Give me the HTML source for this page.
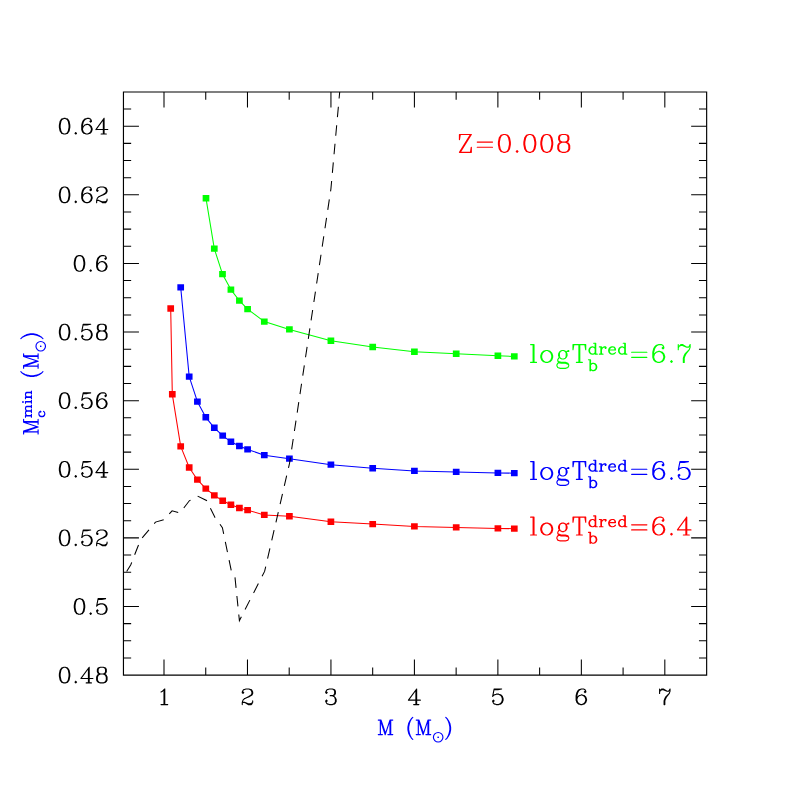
<!DOCTYPE html>
<html><head><meta charset="utf-8"><title>Mc min vs M</title>
<style>html,body{margin:0;padding:0;background:#fff;font-family:"Liberation Sans",sans-serif}svg{display:block}</style>
</head><body>
<svg width="797" height="797" viewBox="0 0 797 797">
<rect width="797" height="797" fill="#fff"/>
<path d="M123.45 92.00H706.65V675.10H123.45Z" fill="none" stroke="#000" stroke-width="1.15" stroke-linejoin="miter"/>
<path d="M164.00 675.10v-15.50M164.00 92.00v15.50M205.74 675.10v-7.70M205.74 92.00v7.70M247.47 675.10v-15.50M247.47 92.00v15.50M289.20 675.10v-7.70M289.20 92.00v7.70M330.94 675.10v-15.50M330.94 92.00v15.50M372.68 675.10v-7.70M372.68 92.00v7.70M414.41 675.10v-15.50M414.41 92.00v15.50M456.14 675.10v-7.70M456.14 92.00v7.70M497.88 675.10v-15.50M497.88 92.00v15.50M539.62 675.10v-7.70M539.62 92.00v7.70M581.35 675.10v-15.50M581.35 92.00v15.50M623.09 675.10v-7.70M623.09 92.00v7.70M664.82 675.10v-15.50M664.82 92.00v15.50M123.45 657.95h7.70M706.65 657.95h-7.70M123.45 640.79h7.70M706.65 640.79h-7.70M123.45 623.64h7.70M706.65 623.64h-7.70M123.45 606.49h15.50M706.65 606.49h-15.50M123.45 589.34h7.70M706.65 589.34h-7.70M123.45 572.18h7.70M706.65 572.18h-7.70M123.45 555.03h7.70M706.65 555.03h-7.70M123.45 537.88h15.50M706.65 537.88h-15.50M123.45 520.73h7.70M706.65 520.73h-7.70M123.45 503.57h7.70M706.65 503.57h-7.70M123.45 486.42h7.70M706.65 486.42h-7.70M123.45 469.27h15.50M706.65 469.27h-15.50M123.45 452.12h7.70M706.65 452.12h-7.70M123.45 434.96h7.70M706.65 434.96h-7.70M123.45 417.81h7.70M706.65 417.81h-7.70M123.45 400.66h15.50M706.65 400.66h-15.50M123.45 383.51h7.70M706.65 383.51h-7.70M123.45 366.36h7.70M706.65 366.36h-7.70M123.45 349.20h7.70M706.65 349.20h-7.70M123.45 332.05h15.50M706.65 332.05h-15.50M123.45 314.90h7.70M706.65 314.90h-7.70M123.45 297.75h7.70M706.65 297.75h-7.70M123.45 280.59h7.70M706.65 280.59h-7.70M123.45 263.44h15.50M706.65 263.44h-15.50M123.45 246.29h7.70M706.65 246.29h-7.70M123.45 229.13h7.70M706.65 229.13h-7.70M123.45 211.98h7.70M706.65 211.98h-7.70M123.45 194.83h15.50M706.65 194.83h-15.50M123.45 177.68h7.70M706.65 177.68h-7.70M123.45 160.52h7.70M706.65 160.52h-7.70M123.45 143.37h7.70M706.65 143.37h-7.70M123.45 126.22h15.50M706.65 126.22h-15.50M123.45 109.07h7.70M706.65 109.07h-7.70" fill="none" stroke="#000" stroke-width="1.05"/>
<path d="M161.02 691.94L162.51 691.19M161.02 704.60L167.73 704.60M162.51 691.19L164.75 688.96M164.00 689.70L164.00 704.60M164.75 688.96L164.75 704.60M242.26 691.94L242.26 692.68M242.26 691.94L243.00 690.45M242.26 692.68L243.00 693.43M242.26 702.37L242.26 704.60M242.26 702.37L243.00 700.13M242.26 703.11L243.00 702.37M243.00 690.45L243.75 689.70M243.00 691.94L243.75 692.68M243.00 693.43L243.75 692.68M243.00 700.13L244.49 698.64M243.00 702.37L244.49 702.37M243.75 689.70L245.98 688.96M244.49 698.64L248.96 696.40M244.49 702.37L248.22 703.86M244.49 702.37L248.22 704.60M245.98 688.96L248.96 688.96M245.98 697.89L249.71 696.40M248.22 703.86L250.45 703.86M248.22 704.60L251.20 704.60M248.96 688.96L250.45 689.70M248.96 688.96L251.20 689.70M248.96 696.40L251.20 694.92M249.71 696.40L251.94 694.92M250.45 689.70L251.20 690.45M250.45 703.86L251.94 703.11M251.20 689.70L251.94 690.45M251.20 690.45L251.94 691.94M251.20 694.92L251.94 693.43M251.20 704.60L251.94 703.86M251.94 690.45L252.69 691.94M251.94 691.94L251.94 693.43M251.94 694.92L252.69 693.43M251.94 703.11L252.69 702.37M251.94 703.86L252.69 702.37M252.69 691.94L252.69 693.43M252.69 700.88L252.69 702.37M325.73 691.94L325.73 692.68M325.73 691.94L326.47 690.45M325.73 692.68L326.47 693.43M325.73 700.88L325.73 701.62M325.73 700.88L326.47 700.13M325.73 701.62L326.47 703.11M326.47 690.45L327.22 689.70M326.47 691.94L327.22 692.68M326.47 693.43L327.22 692.68M326.47 700.13L327.22 700.88M326.47 701.62L327.22 700.88M326.47 703.11L327.22 703.86M327.22 689.70L329.45 688.96M327.22 703.86L329.45 704.60M329.45 688.96L332.43 688.96M329.45 704.60L332.43 704.60M330.19 695.66L332.43 695.66M332.43 688.96L333.92 689.70M332.43 688.96L334.67 689.70M332.43 695.66L333.92 694.92M332.43 695.66L333.92 696.40M332.43 695.66L334.67 694.92M332.43 704.60L333.92 703.86M332.43 704.60L334.67 703.86M333.92 689.70L334.67 691.19M333.92 694.92L334.67 693.43M333.92 696.40L335.41 697.89M333.92 703.86L334.67 703.11M334.67 689.70L335.41 691.19M334.67 691.19L334.67 693.43M334.67 694.92L335.41 693.43M334.67 697.15L335.41 699.38M334.67 703.11L335.41 701.62M334.67 703.86L335.41 703.11M335.41 691.19L335.41 693.43M335.41 697.89L336.16 699.38M335.41 699.38L335.41 701.62M335.41 703.11L336.16 701.62M336.16 699.38L336.16 701.62M408.45 700.13L416.64 688.96M408.45 700.13L420.37 700.13M413.66 704.60L418.88 704.60M415.90 690.45L415.90 704.60M416.64 688.96L416.64 704.60M492.67 696.40L494.16 688.96M492.67 696.40L494.16 694.92M492.67 700.88L492.67 701.62M492.67 700.88L493.41 700.13M492.67 701.62L493.41 703.11M493.41 700.13L494.16 700.88M493.41 701.62L494.16 700.88M493.41 703.11L494.16 703.86M494.16 688.96L501.61 688.96M494.16 689.70L497.88 689.70M494.16 694.92L496.39 694.17M494.16 703.86L496.39 704.60M496.39 694.17L498.62 694.17M496.39 704.60L498.62 704.60M497.88 689.70L501.61 688.96M498.62 694.17L500.12 694.92M498.62 694.17L500.86 694.92M498.62 704.60L500.12 703.86M498.62 704.60L500.86 703.86M500.12 694.92L501.61 696.40M500.12 703.86L501.61 702.37M500.86 694.92L502.35 696.40M500.86 703.86L502.35 702.37M501.61 696.40L502.35 698.64M501.61 702.37L502.35 700.13M502.35 696.40L503.10 698.64M502.35 698.64L502.35 700.13M502.35 702.37L503.10 700.13M503.10 698.64L503.10 700.13M576.13 695.66L576.13 700.13M576.13 695.66L576.88 692.68M576.13 700.13L576.88 702.37M576.88 692.68L577.62 691.19M576.88 695.66L576.88 700.13M576.88 695.66L577.62 692.68M576.88 699.38L577.62 697.15M576.88 700.13L577.62 702.37M576.88 702.37L578.37 703.86M577.62 691.19L579.12 689.70M577.62 692.68L578.37 691.19M577.62 697.15L579.12 695.66M577.62 702.37L579.12 703.86M578.37 691.19L579.86 689.70M578.37 703.86L580.61 704.60M579.12 689.70L581.35 688.96M579.12 695.66L581.35 694.92M579.12 703.86L580.61 704.60M579.86 689.70L581.35 688.96M580.61 704.60L582.10 704.60M581.35 688.96L583.58 688.96M581.35 694.92L582.10 694.92M582.10 694.92L583.58 695.66M582.10 694.92L584.33 695.66M582.10 704.60L583.58 703.86M582.10 704.60L584.33 703.86M583.58 688.96L585.07 689.70M583.58 695.66L585.07 697.15M583.58 703.86L585.07 702.37M584.33 691.94L585.07 691.19M584.33 691.94L585.07 692.68M584.33 695.66L585.82 697.15M584.33 703.86L585.82 702.37M585.07 689.70L585.82 691.19M585.07 692.68L585.82 691.94M585.07 697.15L585.82 699.38M585.07 702.37L585.82 700.13M585.82 691.19L585.82 691.94M585.82 697.15L586.56 699.38M585.82 699.38L585.82 700.13M585.82 702.37L586.56 700.13M586.56 699.38L586.56 700.13M659.60 688.96L659.60 693.43M659.60 691.94L660.35 690.45M660.35 690.45L661.84 688.96M660.35 690.45L661.84 689.70M661.84 688.96L663.33 688.96M661.84 689.70L663.33 689.70M663.33 688.96L667.05 691.19M663.33 689.70L667.05 691.19M664.07 700.88L664.07 704.60M664.07 700.88L664.82 698.64M664.82 698.64L665.56 697.15M664.82 700.88L664.82 704.60M664.82 700.88L665.56 698.64M665.56 697.15L669.29 693.43M665.56 698.64L666.31 697.15M666.31 697.15L669.29 693.43M667.05 691.19L668.54 691.19M668.54 691.19L669.29 690.45M669.29 690.45L670.03 688.96M669.29 693.43L670.03 691.19M670.03 688.96L670.03 691.19M59.38 673.98L59.38 676.22M59.38 673.98L60.13 670.26M59.38 676.22L60.13 679.94M60.13 670.26L61.62 668.02M60.13 673.98L60.13 676.22M60.13 673.98L60.88 670.26M60.13 676.22L60.88 679.94M60.13 679.94L61.62 682.18M60.88 670.26L61.62 668.77M60.88 679.94L61.62 681.43M61.62 668.02L63.85 667.28M61.62 668.77L62.36 668.02M61.62 681.43L62.36 682.18M61.62 682.18L63.85 682.92M62.36 668.02L63.85 667.28M62.36 682.18L63.85 682.92M63.85 667.28L65.34 667.28M63.85 682.92L65.34 682.92M65.34 667.28L66.83 668.02M65.34 667.28L67.58 668.02M65.34 682.92L66.83 682.18M65.34 682.92L67.58 682.18M66.83 668.02L67.58 668.77M66.83 682.18L67.58 681.43M67.58 668.02L69.07 670.26M67.58 668.77L68.33 670.26M67.58 681.43L68.33 679.94M67.58 682.18L69.07 679.94M68.33 670.26L69.07 673.98M68.33 679.94L69.07 676.22M69.07 670.26L69.81 673.98M69.07 673.98L69.07 676.22M69.07 679.94L69.81 676.22M69.81 673.98L69.81 676.22M75.03 682.18L75.77 681.43M75.03 682.18L75.77 682.92M75.77 681.43L76.52 682.18M75.77 682.92L76.52 682.18M75.33 682.18h0.89M80.99 678.45L89.19 667.28M80.99 678.45L92.91 678.45M86.20 682.92L91.42 682.92M88.44 668.77L88.44 682.92M89.19 667.28L89.19 682.92M96.64 676.96L96.64 679.94M96.64 676.96L97.38 675.47M96.64 679.94L97.38 681.43M97.38 669.51L97.38 671.75M97.38 669.51L98.12 668.02M97.38 671.75L98.12 673.24M97.38 675.47L98.12 674.73M97.38 676.96L97.38 679.94M97.38 676.96L98.12 675.47M97.38 679.94L98.12 681.43M97.38 681.43L98.12 682.18M98.12 668.02L100.36 667.28M98.12 669.51L98.12 671.75M98.12 669.51L98.87 668.02M98.12 671.75L98.87 673.24M98.12 673.24L100.36 673.98M98.12 674.73L100.36 673.98M98.12 675.47L98.87 674.73M98.12 681.43L98.87 682.18M98.12 682.18L100.36 682.92M98.87 668.02L100.36 667.28M98.87 673.24L100.36 673.98M98.87 674.73L100.36 673.98M98.87 682.18L100.36 682.92M100.36 667.28L103.34 667.28M100.36 673.98L103.34 673.98M100.36 682.92L103.34 682.92M103.34 667.28L104.83 668.02M103.34 667.28L105.58 668.02M103.34 673.98L104.83 673.24M103.34 673.98L104.83 674.73M103.34 673.98L105.58 673.24M103.34 673.98L105.58 674.73M103.34 682.92L104.83 682.18M103.34 682.92L105.58 682.18M104.83 668.02L105.58 669.51M104.83 673.24L105.58 671.75M104.83 674.73L105.58 675.47M104.83 682.18L105.58 681.43M105.58 668.02L106.32 669.51M105.58 669.51L105.58 671.75M105.58 673.24L106.32 671.75M105.58 674.73L106.32 675.47M105.58 675.47L106.32 676.96M105.58 681.43L106.32 679.94M105.58 682.18L106.32 681.43M106.32 669.51L106.32 671.75M106.32 675.47L107.06 676.96M106.32 676.96L106.32 679.94M106.32 681.43L107.06 679.94M107.06 676.96L107.06 679.94M74.28 605.37L74.28 607.61M74.28 605.37L75.03 601.65M74.28 607.61L75.03 611.33M75.03 601.65L76.52 599.41M75.03 605.37L75.03 607.61M75.03 605.37L75.77 601.65M75.03 607.61L75.77 611.33M75.03 611.33L76.52 613.57M75.77 601.65L76.52 600.16M75.77 611.33L76.52 612.82M76.52 599.41L78.75 598.67M76.52 600.16L77.27 599.41M76.52 612.82L77.27 613.57M76.52 613.57L78.75 614.31M77.27 599.41L78.75 598.67M77.27 613.57L78.75 614.31M78.75 598.67L80.25 598.67M78.75 614.31L80.25 614.31M80.25 598.67L81.73 599.41M80.25 598.67L82.48 599.41M80.25 614.31L81.73 613.57M80.25 614.31L82.48 613.57M81.73 599.41L82.48 600.16M81.73 613.57L82.48 612.82M82.48 599.41L83.97 601.65M82.48 600.16L83.22 601.65M82.48 612.82L83.22 611.33M82.48 613.57L83.97 611.33M83.22 601.65L83.97 605.37M83.22 611.33L83.97 607.61M83.97 601.65L84.72 605.37M83.97 605.37L83.97 607.61M83.97 611.33L84.72 607.61M84.72 605.37L84.72 607.61M89.93 613.57L90.67 612.82M89.93 613.57L90.67 614.31M90.67 612.82L91.42 613.57M90.67 614.31L91.42 613.57M90.23 613.57h0.89M96.64 606.12L98.12 598.67M96.64 606.12L98.12 604.63M96.64 610.59L96.64 611.33M96.64 610.59L97.38 609.84M96.64 611.33L97.38 612.82M97.38 609.84L98.12 610.59M97.38 611.33L98.12 610.59M97.38 612.82L98.12 613.57M98.12 598.67L105.58 598.67M98.12 599.41L101.85 599.41M98.12 604.63L100.36 603.88M98.12 613.57L100.36 614.31M100.36 603.88L102.59 603.88M100.36 614.31L102.59 614.31M101.85 599.41L105.58 598.67M102.59 603.88L104.09 604.63M102.59 603.88L104.83 604.63M102.59 614.31L104.09 613.57M102.59 614.31L104.83 613.57M104.09 604.63L105.58 606.12M104.09 613.57L105.58 612.08M104.83 604.63L106.32 606.12M104.83 613.57L106.32 612.08M105.58 606.12L106.32 608.35M105.58 612.08L106.32 609.84M106.32 606.12L107.06 608.35M106.32 608.35L106.32 609.84M106.32 612.08L107.06 609.84M107.06 608.35L107.06 609.84M59.38 536.76L59.38 539.00M59.38 536.76L60.13 533.04M59.38 539.00L60.13 542.72M60.13 533.04L61.62 530.80M60.13 536.76L60.13 539.00M60.13 536.76L60.88 533.04M60.13 539.00L60.88 542.72M60.13 542.72L61.62 544.96M60.88 533.04L61.62 531.55M60.88 542.72L61.62 544.21M61.62 530.80L63.85 530.06M61.62 531.55L62.36 530.80M61.62 544.21L62.36 544.96M61.62 544.96L63.85 545.70M62.36 530.80L63.85 530.06M62.36 544.96L63.85 545.70M63.85 530.06L65.34 530.06M63.85 545.70L65.34 545.70M65.34 530.06L66.83 530.80M65.34 530.06L67.58 530.80M65.34 545.70L66.83 544.96M65.34 545.70L67.58 544.96M66.83 530.80L67.58 531.55M66.83 544.96L67.58 544.21M67.58 530.80L69.07 533.04M67.58 531.55L68.33 533.04M67.58 544.21L68.33 542.72M67.58 544.96L69.07 542.72M68.33 533.04L69.07 536.76M68.33 542.72L69.07 539.00M69.07 533.04L69.81 536.76M69.07 536.76L69.07 539.00M69.07 542.72L69.81 539.00M69.81 536.76L69.81 539.00M75.03 544.96L75.77 544.21M75.03 544.96L75.77 545.70M75.77 544.21L76.52 544.96M75.77 545.70L76.52 544.96M75.33 544.96h0.89M81.73 537.51L83.22 530.06M81.73 537.51L83.22 536.02M81.73 541.98L81.73 542.72M81.73 541.98L82.48 541.23M81.73 542.72L82.48 544.21M82.48 541.23L83.22 541.98M82.48 542.72L83.22 541.98M82.48 544.21L83.22 544.96M83.22 530.06L90.67 530.06M83.22 530.80L86.95 530.80M83.22 536.02L85.46 535.27M83.22 544.96L85.46 545.70M85.46 535.27L87.69 535.27M85.46 545.70L87.69 545.70M86.95 530.80L90.67 530.06M87.69 535.27L89.19 536.02M87.69 535.27L89.93 536.02M87.69 545.70L89.19 544.96M87.69 545.70L89.93 544.96M89.19 536.02L90.67 537.51M89.19 544.96L90.67 543.47M89.93 536.02L91.42 537.51M89.93 544.96L91.42 543.47M90.67 537.51L91.42 539.74M90.67 543.47L91.42 541.23M91.42 537.51L92.16 539.74M91.42 539.74L91.42 541.23M91.42 543.47L92.16 541.23M92.16 539.74L92.16 541.23M96.64 533.04L96.64 533.78M96.64 533.04L97.38 531.55M96.64 533.78L97.38 534.53M96.64 543.47L96.64 545.70M96.64 543.47L97.38 541.23M96.64 544.21L97.38 543.47M97.38 531.55L98.12 530.80M97.38 533.04L98.12 533.78M97.38 534.53L98.12 533.78M97.38 541.23L98.87 539.74M97.38 543.47L98.87 543.47M98.12 530.80L100.36 530.06M98.87 539.74L103.34 537.51M98.87 543.47L102.59 544.96M98.87 543.47L102.59 545.70M100.36 530.06L103.34 530.06M100.36 539.00L104.09 537.51M102.59 544.96L104.83 544.96M102.59 545.70L105.58 545.70M103.34 530.06L104.83 530.80M103.34 530.06L105.58 530.80M103.34 537.51L105.58 536.02M104.09 537.51L106.32 536.02M104.83 530.80L105.58 531.55M104.83 544.96L106.32 544.21M105.58 530.80L106.32 531.55M105.58 531.55L106.32 533.04M105.58 536.02L106.32 534.53M105.58 545.70L106.32 544.96M106.32 531.55L107.06 533.04M106.32 533.04L106.32 534.53M106.32 536.02L107.06 534.53M106.32 544.21L107.06 543.47M106.32 544.96L107.06 543.47M107.06 533.04L107.06 534.53M107.06 541.98L107.06 543.47M59.38 468.15L59.38 470.39M59.38 468.15L60.13 464.43M59.38 470.39L60.13 474.11M60.13 464.43L61.62 462.19M60.13 468.15L60.13 470.39M60.13 468.15L60.88 464.43M60.13 470.39L60.88 474.11M60.13 474.11L61.62 476.35M60.88 464.43L61.62 462.94M60.88 474.11L61.62 475.60M61.62 462.19L63.85 461.45M61.62 462.94L62.36 462.19M61.62 475.60L62.36 476.35M61.62 476.35L63.85 477.09M62.36 462.19L63.85 461.45M62.36 476.35L63.85 477.09M63.85 461.45L65.34 461.45M63.85 477.09L65.34 477.09M65.34 461.45L66.83 462.19M65.34 461.45L67.58 462.19M65.34 477.09L66.83 476.35M65.34 477.09L67.58 476.35M66.83 462.19L67.58 462.94M66.83 476.35L67.58 475.60M67.58 462.19L69.07 464.43M67.58 462.94L68.33 464.43M67.58 475.60L68.33 474.11M67.58 476.35L69.07 474.11M68.33 464.43L69.07 468.15M68.33 474.11L69.07 470.39M69.07 464.43L69.81 468.15M69.07 468.15L69.07 470.39M69.07 474.11L69.81 470.39M69.81 468.15L69.81 470.39M75.03 476.35L75.77 475.60M75.03 476.35L75.77 477.09M75.77 475.60L76.52 476.35M75.77 477.09L76.52 476.35M75.33 476.35h0.89M81.73 468.90L83.22 461.45M81.73 468.90L83.22 467.41M81.73 473.37L81.73 474.11M81.73 473.37L82.48 472.62M81.73 474.11L82.48 475.60M82.48 472.62L83.22 473.37M82.48 474.11L83.22 473.37M82.48 475.60L83.22 476.35M83.22 461.45L90.67 461.45M83.22 462.19L86.95 462.19M83.22 467.41L85.46 466.66M83.22 476.35L85.46 477.09M85.46 466.66L87.69 466.66M85.46 477.09L87.69 477.09M86.95 462.19L90.67 461.45M87.69 466.66L89.19 467.41M87.69 466.66L89.93 467.41M87.69 477.09L89.19 476.35M87.69 477.09L89.93 476.35M89.19 467.41L90.67 468.90M89.19 476.35L90.67 474.86M89.93 467.41L91.42 468.90M89.93 476.35L91.42 474.86M90.67 468.90L91.42 471.13M90.67 474.86L91.42 472.62M91.42 468.90L92.16 471.13M91.42 471.13L91.42 472.62M91.42 474.86L92.16 472.62M92.16 471.13L92.16 472.62M95.89 472.62L104.09 461.45M95.89 472.62L107.81 472.62M101.11 477.09L106.32 477.09M103.34 462.94L103.34 477.09M104.09 461.45L104.09 477.09M59.38 399.54L59.38 401.78M59.38 399.54L60.13 395.82M59.38 401.78L60.13 405.50M60.13 395.82L61.62 393.58M60.13 399.54L60.13 401.78M60.13 399.54L60.88 395.82M60.13 401.78L60.88 405.50M60.13 405.50L61.62 407.74M60.88 395.82L61.62 394.33M60.88 405.50L61.62 406.99M61.62 393.58L63.85 392.84M61.62 394.33L62.36 393.58M61.62 406.99L62.36 407.74M61.62 407.74L63.85 408.48M62.36 393.58L63.85 392.84M62.36 407.74L63.85 408.48M63.85 392.84L65.34 392.84M63.85 408.48L65.34 408.48M65.34 392.84L66.83 393.58M65.34 392.84L67.58 393.58M65.34 408.48L66.83 407.74M65.34 408.48L67.58 407.74M66.83 393.58L67.58 394.33M66.83 407.74L67.58 406.99M67.58 393.58L69.07 395.82M67.58 394.33L68.33 395.82M67.58 406.99L68.33 405.50M67.58 407.74L69.07 405.50M68.33 395.82L69.07 399.54M68.33 405.50L69.07 401.78M69.07 395.82L69.81 399.54M69.07 399.54L69.07 401.78M69.07 405.50L69.81 401.78M69.81 399.54L69.81 401.78M75.03 407.74L75.77 406.99M75.03 407.74L75.77 408.48M75.77 406.99L76.52 407.74M75.77 408.48L76.52 407.74M75.33 407.74h0.89M81.73 400.29L83.22 392.84M81.73 400.29L83.22 398.80M81.73 404.76L81.73 405.50M81.73 404.76L82.48 404.01M81.73 405.50L82.48 406.99M82.48 404.01L83.22 404.76M82.48 405.50L83.22 404.76M82.48 406.99L83.22 407.74M83.22 392.84L90.67 392.84M83.22 393.58L86.95 393.58M83.22 398.80L85.46 398.05M83.22 407.74L85.46 408.48M85.46 398.05L87.69 398.05M85.46 408.48L87.69 408.48M86.95 393.58L90.67 392.84M87.69 398.05L89.19 398.80M87.69 398.05L89.93 398.80M87.69 408.48L89.19 407.74M87.69 408.48L89.93 407.74M89.19 398.80L90.67 400.29M89.19 407.74L90.67 406.25M89.93 398.80L91.42 400.29M89.93 407.74L91.42 406.25M90.67 400.29L91.42 402.52M90.67 406.25L91.42 404.01M91.42 400.29L92.16 402.52M91.42 402.52L91.42 404.01M91.42 406.25L92.16 404.01M92.16 402.52L92.16 404.01M96.64 399.54L96.64 404.01M96.64 399.54L97.38 396.56M96.64 404.01L97.38 406.25M97.38 396.56L98.12 395.07M97.38 399.54L97.38 404.01M97.38 399.54L98.12 396.56M97.38 403.27L98.12 401.03M97.38 404.01L98.12 406.25M97.38 406.25L98.87 407.74M98.12 395.07L99.62 393.58M98.12 396.56L98.87 395.07M98.12 401.03L99.62 399.54M98.12 406.25L99.62 407.74M98.87 395.07L100.36 393.58M98.87 407.74L101.11 408.48M99.62 393.58L101.85 392.84M99.62 399.54L101.85 398.80M99.62 407.74L101.11 408.48M100.36 393.58L101.85 392.84M101.11 408.48L102.59 408.48M101.85 392.84L104.09 392.84M101.85 398.80L102.59 398.80M102.59 398.80L104.09 399.54M102.59 398.80L104.83 399.54M102.59 408.48L104.09 407.74M102.59 408.48L104.83 407.74M104.09 392.84L105.58 393.58M104.09 399.54L105.58 401.03M104.09 407.74L105.58 406.25M104.83 395.82L105.58 395.07M104.83 395.82L105.58 396.56M104.83 399.54L106.32 401.03M104.83 407.74L106.32 406.25M105.58 393.58L106.32 395.07M105.58 396.56L106.32 395.82M105.58 401.03L106.32 403.27M105.58 406.25L106.32 404.01M106.32 395.07L106.32 395.82M106.32 401.03L107.06 403.27M106.32 403.27L106.32 404.01M106.32 406.25L107.06 404.01M107.06 403.27L107.06 404.01M59.38 330.93L59.38 333.17M59.38 330.93L60.13 327.21M59.38 333.17L60.13 336.89M60.13 327.21L61.62 324.97M60.13 330.93L60.13 333.17M60.13 330.93L60.88 327.21M60.13 333.17L60.88 336.89M60.13 336.89L61.62 339.13M60.88 327.21L61.62 325.72M60.88 336.89L61.62 338.38M61.62 324.97L63.85 324.23M61.62 325.72L62.36 324.97M61.62 338.38L62.36 339.13M61.62 339.13L63.85 339.87M62.36 324.97L63.85 324.23M62.36 339.13L63.85 339.87M63.85 324.23L65.34 324.23M63.85 339.87L65.34 339.87M65.34 324.23L66.83 324.97M65.34 324.23L67.58 324.97M65.34 339.87L66.83 339.13M65.34 339.87L67.58 339.13M66.83 324.97L67.58 325.72M66.83 339.13L67.58 338.38M67.58 324.97L69.07 327.21M67.58 325.72L68.33 327.21M67.58 338.38L68.33 336.89M67.58 339.13L69.07 336.89M68.33 327.21L69.07 330.93M68.33 336.89L69.07 333.17M69.07 327.21L69.81 330.93M69.07 330.93L69.07 333.17M69.07 336.89L69.81 333.17M69.81 330.93L69.81 333.17M75.03 339.13L75.77 338.38M75.03 339.13L75.77 339.87M75.77 338.38L76.52 339.13M75.77 339.87L76.52 339.13M75.33 339.13h0.89M81.73 331.68L83.22 324.23M81.73 331.68L83.22 330.19M81.73 336.15L81.73 336.89M81.73 336.15L82.48 335.40M81.73 336.89L82.48 338.38M82.48 335.40L83.22 336.15M82.48 336.89L83.22 336.15M82.48 338.38L83.22 339.13M83.22 324.23L90.67 324.23M83.22 324.97L86.95 324.97M83.22 330.19L85.46 329.44M83.22 339.13L85.46 339.87M85.46 329.44L87.69 329.44M85.46 339.87L87.69 339.87M86.95 324.97L90.67 324.23M87.69 329.44L89.19 330.19M87.69 329.44L89.93 330.19M87.69 339.87L89.19 339.13M87.69 339.87L89.93 339.13M89.19 330.19L90.67 331.68M89.19 339.13L90.67 337.64M89.93 330.19L91.42 331.68M89.93 339.13L91.42 337.64M90.67 331.68L91.42 333.91M90.67 337.64L91.42 335.40M91.42 331.68L92.16 333.91M91.42 333.91L91.42 335.40M91.42 337.64L92.16 335.40M92.16 333.91L92.16 335.40M96.64 333.91L96.64 336.89M96.64 333.91L97.38 332.42M96.64 336.89L97.38 338.38M97.38 326.46L97.38 328.70M97.38 326.46L98.12 324.97M97.38 328.70L98.12 330.19M97.38 332.42L98.12 331.68M97.38 333.91L97.38 336.89M97.38 333.91L98.12 332.42M97.38 336.89L98.12 338.38M97.38 338.38L98.12 339.13M98.12 324.97L100.36 324.23M98.12 326.46L98.12 328.70M98.12 326.46L98.87 324.97M98.12 328.70L98.87 330.19M98.12 330.19L100.36 330.93M98.12 331.68L100.36 330.93M98.12 332.42L98.87 331.68M98.12 338.38L98.87 339.13M98.12 339.13L100.36 339.87M98.87 324.97L100.36 324.23M98.87 330.19L100.36 330.93M98.87 331.68L100.36 330.93M98.87 339.13L100.36 339.87M100.36 324.23L103.34 324.23M100.36 330.93L103.34 330.93M100.36 339.87L103.34 339.87M103.34 324.23L104.83 324.97M103.34 324.23L105.58 324.97M103.34 330.93L104.83 330.19M103.34 330.93L104.83 331.68M103.34 330.93L105.58 330.19M103.34 330.93L105.58 331.68M103.34 339.87L104.83 339.13M103.34 339.87L105.58 339.13M104.83 324.97L105.58 326.46M104.83 330.19L105.58 328.70M104.83 331.68L105.58 332.42M104.83 339.13L105.58 338.38M105.58 324.97L106.32 326.46M105.58 326.46L105.58 328.70M105.58 330.19L106.32 328.70M105.58 331.68L106.32 332.42M105.58 332.42L106.32 333.91M105.58 338.38L106.32 336.89M105.58 339.13L106.32 338.38M106.32 326.46L106.32 328.70M106.32 332.42L107.06 333.91M106.32 333.91L106.32 336.89M106.32 338.38L107.06 336.89M107.06 333.91L107.06 336.89M74.28 262.32L74.28 264.56M74.28 262.32L75.03 258.60M74.28 264.56L75.03 268.28M75.03 258.60L76.52 256.36M75.03 262.32L75.03 264.56M75.03 262.32L75.77 258.60M75.03 264.56L75.77 268.28M75.03 268.28L76.52 270.52M75.77 258.60L76.52 257.11M75.77 268.28L76.52 269.77M76.52 256.36L78.75 255.62M76.52 257.11L77.27 256.36M76.52 269.77L77.27 270.52M76.52 270.52L78.75 271.26M77.27 256.36L78.75 255.62M77.27 270.52L78.75 271.26M78.75 255.62L80.25 255.62M78.75 271.26L80.25 271.26M80.25 255.62L81.73 256.36M80.25 255.62L82.48 256.36M80.25 271.26L81.73 270.52M80.25 271.26L82.48 270.52M81.73 256.36L82.48 257.11M81.73 270.52L82.48 269.77M82.48 256.36L83.97 258.60M82.48 257.11L83.22 258.60M82.48 269.77L83.22 268.28M82.48 270.52L83.97 268.28M83.22 258.60L83.97 262.32M83.22 268.28L83.97 264.56M83.97 258.60L84.72 262.32M83.97 262.32L83.97 264.56M83.97 268.28L84.72 264.56M84.72 262.32L84.72 264.56M89.93 270.52L90.67 269.77M89.93 270.52L90.67 271.26M90.67 269.77L91.42 270.52M90.67 271.26L91.42 270.52M90.23 270.52h0.89M96.64 262.32L96.64 266.79M96.64 262.32L97.38 259.34M96.64 266.79L97.38 269.03M97.38 259.34L98.12 257.85M97.38 262.32L97.38 266.79M97.38 262.32L98.12 259.34M97.38 266.05L98.12 263.81M97.38 266.79L98.12 269.03M97.38 269.03L98.87 270.52M98.12 257.85L99.62 256.36M98.12 259.34L98.87 257.85M98.12 263.81L99.62 262.32M98.12 269.03L99.62 270.52M98.87 257.85L100.36 256.36M98.87 270.52L101.11 271.26M99.62 256.36L101.85 255.62M99.62 262.32L101.85 261.58M99.62 270.52L101.11 271.26M100.36 256.36L101.85 255.62M101.11 271.26L102.59 271.26M101.85 255.62L104.09 255.62M101.85 261.58L102.59 261.58M102.59 261.58L104.09 262.32M102.59 261.58L104.83 262.32M102.59 271.26L104.09 270.52M102.59 271.26L104.83 270.52M104.09 255.62L105.58 256.36M104.09 262.32L105.58 263.81M104.09 270.52L105.58 269.03M104.83 258.60L105.58 257.85M104.83 258.60L105.58 259.34M104.83 262.32L106.32 263.81M104.83 270.52L106.32 269.03M105.58 256.36L106.32 257.85M105.58 259.34L106.32 258.60M105.58 263.81L106.32 266.05M105.58 269.03L106.32 266.79M106.32 257.85L106.32 258.60M106.32 263.81L107.06 266.05M106.32 266.05L106.32 266.79M106.32 269.03L107.06 266.79M107.06 266.05L107.06 266.79M59.38 193.71L59.38 195.95M59.38 193.71L60.13 189.99M59.38 195.95L60.13 199.67M60.13 189.99L61.62 187.75M60.13 193.71L60.13 195.95M60.13 193.71L60.88 189.99M60.13 195.95L60.88 199.67M60.13 199.67L61.62 201.91M60.88 189.99L61.62 188.50M60.88 199.67L61.62 201.16M61.62 187.75L63.85 187.01M61.62 188.50L62.36 187.75M61.62 201.16L62.36 201.91M61.62 201.91L63.85 202.65M62.36 187.75L63.85 187.01M62.36 201.91L63.85 202.65M63.85 187.01L65.34 187.01M63.85 202.65L65.34 202.65M65.34 187.01L66.83 187.75M65.34 187.01L67.58 187.75M65.34 202.65L66.83 201.91M65.34 202.65L67.58 201.91M66.83 187.75L67.58 188.50M66.83 201.91L67.58 201.16M67.58 187.75L69.07 189.99M67.58 188.50L68.33 189.99M67.58 201.16L68.33 199.67M67.58 201.91L69.07 199.67M68.33 189.99L69.07 193.71M68.33 199.67L69.07 195.95M69.07 189.99L69.81 193.71M69.07 193.71L69.07 195.95M69.07 199.67L69.81 195.95M69.81 193.71L69.81 195.95M75.03 201.91L75.77 201.16M75.03 201.91L75.77 202.65M75.77 201.16L76.52 201.91M75.77 202.65L76.52 201.91M75.33 201.91h0.89M81.73 193.71L81.73 198.18M81.73 193.71L82.48 190.73M81.73 198.18L82.48 200.42M82.48 190.73L83.22 189.24M82.48 193.71L82.48 198.18M82.48 193.71L83.22 190.73M82.48 197.44L83.22 195.20M82.48 198.18L83.22 200.42M82.48 200.42L83.97 201.91M83.22 189.24L84.72 187.75M83.22 190.73L83.97 189.24M83.22 195.20L84.72 193.71M83.22 200.42L84.72 201.91M83.97 189.24L85.46 187.75M83.97 201.91L86.20 202.65M84.72 187.75L86.95 187.01M84.72 193.71L86.95 192.97M84.72 201.91L86.20 202.65M85.46 187.75L86.95 187.01M86.20 202.65L87.69 202.65M86.95 187.01L89.19 187.01M86.95 192.97L87.69 192.97M87.69 192.97L89.19 193.71M87.69 192.97L89.93 193.71M87.69 202.65L89.19 201.91M87.69 202.65L89.93 201.91M89.19 187.01L90.67 187.75M89.19 193.71L90.67 195.20M89.19 201.91L90.67 200.42M89.93 189.99L90.67 189.24M89.93 189.99L90.67 190.73M89.93 193.71L91.42 195.20M89.93 201.91L91.42 200.42M90.67 187.75L91.42 189.24M90.67 190.73L91.42 189.99M90.67 195.20L91.42 197.44M90.67 200.42L91.42 198.18M91.42 189.24L91.42 189.99M91.42 195.20L92.16 197.44M91.42 197.44L91.42 198.18M91.42 200.42L92.16 198.18M92.16 197.44L92.16 198.18M96.64 189.99L96.64 190.73M96.64 189.99L97.38 188.50M96.64 190.73L97.38 191.48M96.64 200.42L96.64 202.65M96.64 200.42L97.38 198.18M96.64 201.16L97.38 200.42M97.38 188.50L98.12 187.75M97.38 189.99L98.12 190.73M97.38 191.48L98.12 190.73M97.38 198.18L98.87 196.69M97.38 200.42L98.87 200.42M98.12 187.75L100.36 187.01M98.87 196.69L103.34 194.46M98.87 200.42L102.59 201.91M98.87 200.42L102.59 202.65M100.36 187.01L103.34 187.01M100.36 195.95L104.09 194.46M102.59 201.91L104.83 201.91M102.59 202.65L105.58 202.65M103.34 187.01L104.83 187.75M103.34 187.01L105.58 187.75M103.34 194.46L105.58 192.97M104.09 194.46L106.32 192.97M104.83 187.75L105.58 188.50M104.83 201.91L106.32 201.16M105.58 187.75L106.32 188.50M105.58 188.50L106.32 189.99M105.58 192.97L106.32 191.48M105.58 202.65L106.32 201.91M106.32 188.50L107.06 189.99M106.32 189.99L106.32 191.48M106.32 192.97L107.06 191.48M106.32 201.16L107.06 200.42M106.32 201.91L107.06 200.42M107.06 189.99L107.06 191.48M107.06 198.93L107.06 200.42M59.38 125.10L59.38 127.34M59.38 125.10L60.13 121.38M59.38 127.34L60.13 131.06M60.13 121.38L61.62 119.14M60.13 125.10L60.13 127.34M60.13 125.10L60.88 121.38M60.13 127.34L60.88 131.06M60.13 131.06L61.62 133.30M60.88 121.38L61.62 119.89M60.88 131.06L61.62 132.55M61.62 119.14L63.85 118.40M61.62 119.89L62.36 119.14M61.62 132.55L62.36 133.30M61.62 133.30L63.85 134.04M62.36 119.14L63.85 118.40M62.36 133.30L63.85 134.04M63.85 118.40L65.34 118.40M63.85 134.04L65.34 134.04M65.34 118.40L66.83 119.14M65.34 118.40L67.58 119.14M65.34 134.04L66.83 133.30M65.34 134.04L67.58 133.30M66.83 119.14L67.58 119.89M66.83 133.30L67.58 132.55M67.58 119.14L69.07 121.38M67.58 119.89L68.33 121.38M67.58 132.55L68.33 131.06M67.58 133.30L69.07 131.06M68.33 121.38L69.07 125.10M68.33 131.06L69.07 127.34M69.07 121.38L69.81 125.10M69.07 125.10L69.07 127.34M69.07 131.06L69.81 127.34M69.81 125.10L69.81 127.34M75.03 133.30L75.77 132.55M75.03 133.30L75.77 134.04M75.77 132.55L76.52 133.30M75.77 134.04L76.52 133.30M75.33 133.30h0.89M81.73 125.10L81.73 129.57M81.73 125.10L82.48 122.12M81.73 129.57L82.48 131.81M82.48 122.12L83.22 120.63M82.48 125.10L82.48 129.57M82.48 125.10L83.22 122.12M82.48 128.83L83.22 126.59M82.48 129.57L83.22 131.81M82.48 131.81L83.97 133.30M83.22 120.63L84.72 119.14M83.22 122.12L83.97 120.63M83.22 126.59L84.72 125.10M83.22 131.81L84.72 133.30M83.97 120.63L85.46 119.14M83.97 133.30L86.20 134.04M84.72 119.14L86.95 118.40M84.72 125.10L86.95 124.36M84.72 133.30L86.20 134.04M85.46 119.14L86.95 118.40M86.20 134.04L87.69 134.04M86.95 118.40L89.19 118.40M86.95 124.36L87.69 124.36M87.69 124.36L89.19 125.10M87.69 124.36L89.93 125.10M87.69 134.04L89.19 133.30M87.69 134.04L89.93 133.30M89.19 118.40L90.67 119.14M89.19 125.10L90.67 126.59M89.19 133.30L90.67 131.81M89.93 121.38L90.67 120.63M89.93 121.38L90.67 122.12M89.93 125.10L91.42 126.59M89.93 133.30L91.42 131.81M90.67 119.14L91.42 120.63M90.67 122.12L91.42 121.38M90.67 126.59L91.42 128.83M90.67 131.81L91.42 129.57M91.42 120.63L91.42 121.38M91.42 126.59L92.16 128.83M91.42 128.83L91.42 129.57M91.42 131.81L92.16 129.57M92.16 128.83L92.16 129.57M95.89 129.57L104.09 118.40M95.89 129.57L107.81 129.57M101.11 134.04L106.32 134.04M103.34 119.89L103.34 134.04M104.09 118.40L104.09 134.04" fill="none" stroke="#000" stroke-width="1.10" stroke-linecap="round" stroke-linejoin="round" />
<path d="M530.60 344.59L533.99 344.59M530.60 362.40L536.53 362.40M533.14 344.59L533.14 362.40M533.99 344.59L533.99 362.40M540.77 355.62L540.77 357.31M540.77 355.62L541.62 353.07M540.77 357.31L541.62 359.86M541.62 353.07L543.32 351.38M541.62 355.62L541.62 357.31M541.62 355.62L542.47 353.07M541.62 357.31L542.47 359.86M541.62 359.86L543.32 361.55M542.47 353.07L544.16 351.38M542.47 359.86L544.16 361.55M543.32 351.38L545.86 350.53M543.32 361.55L545.86 362.40M544.16 351.38L545.86 350.53M544.16 361.55L545.86 362.40M545.86 350.53L547.56 350.53M545.86 362.40L547.56 362.40M547.56 350.53L549.25 351.38M547.56 350.53L550.10 351.38M547.56 362.40L549.25 361.55M547.56 362.40L550.10 361.55M549.25 351.38L550.95 353.07M549.25 361.55L550.95 359.86M550.10 351.38L551.80 353.07M550.10 361.55L551.80 359.86M550.95 353.07L551.80 355.62M550.95 359.86L551.80 357.31M551.80 353.07L552.64 355.62M551.80 355.62L551.80 357.31M551.80 359.86L552.64 357.31M552.64 355.62L552.64 357.31M556.88 364.94L556.88 365.79M556.88 364.94L557.73 363.25M556.88 365.79L557.73 367.49M557.73 359.86L557.73 360.70M557.73 359.86L558.58 358.16M557.73 360.70L558.58 361.55M557.73 360.70L558.58 362.40M557.73 363.25L560.28 362.40M557.73 367.49L560.28 368.34M558.58 353.92L558.58 355.62M558.58 353.92L559.43 352.22M558.58 355.62L559.43 357.31M558.58 358.16L559.43 357.31M558.58 361.55L561.12 362.40M558.58 362.40L561.12 363.25M559.43 352.22L560.28 351.38M559.43 353.07L559.43 356.46M559.43 353.07L560.28 351.38M559.43 356.46L560.28 358.16M559.43 357.31L560.28 358.16M560.28 351.38L561.97 350.53M560.28 358.16L561.97 359.01M560.28 368.34L565.36 368.34M561.12 362.40L565.36 362.40M561.12 363.25L565.36 363.25M561.97 350.53L563.67 350.53M561.97 359.01L563.67 359.01M563.67 350.53L565.36 351.38M563.67 359.01L565.36 358.16M565.36 351.38L566.21 352.22M565.36 351.38L566.21 353.07M565.36 358.16L566.21 356.46M565.36 358.16L566.21 357.31M565.36 362.40L567.91 363.25M565.36 363.25L567.91 364.10M565.36 368.34L567.91 367.49M566.21 352.22L567.06 351.38M566.21 352.22L567.06 353.92M566.21 353.07L566.21 356.46M566.21 357.31L567.06 355.62M567.06 351.38L568.76 350.53M567.06 351.38L568.76 351.38M567.06 353.92L567.06 355.62M567.91 363.25L568.76 364.94M567.91 364.10L568.76 364.94M567.91 367.49L568.76 365.79M568.76 350.53L568.76 351.38M568.76 364.94L568.76 365.79M573.00 344.59L573.00 349.68M573.00 344.59L585.72 344.59M573.00 349.68L573.84 344.59M576.39 362.40L582.32 362.40M578.93 344.59L578.93 362.40M579.78 344.59L579.78 362.40M584.87 344.59L585.72 349.68M585.72 344.59L585.72 349.68M588.97 350.02L588.97 351.06M588.97 350.02L589.49 348.47M588.97 351.06L589.49 352.62M589.49 348.47L590.53 347.43M589.49 350.02L589.49 351.06M589.49 350.02L590.01 348.47M589.49 351.06L590.01 352.62M589.49 352.62L590.53 353.66M590.01 348.47L591.04 347.43M590.01 352.62L591.04 353.66M590.53 347.43L592.08 346.91M590.53 353.66L592.08 354.17M591.04 347.43L592.08 346.91M591.04 353.66L592.08 354.17M592.08 346.91L593.12 346.91M592.08 354.17L593.12 354.17M593.12 346.91L594.16 347.43M593.12 354.17L594.16 353.66M593.64 343.28L595.72 343.28M594.16 347.43L595.20 348.47M594.16 353.66L595.20 352.62M595.20 343.28L595.20 354.17M595.20 354.17L597.27 354.17M595.72 343.28L595.72 354.17M599.35 346.91L601.42 346.91M599.35 354.17L602.98 354.17M600.91 346.91L600.91 354.17M601.42 346.91L601.42 354.17M601.42 350.02L601.94 348.47M601.94 348.47L602.98 347.43M602.98 347.43L604.02 346.91M604.02 346.91L605.58 346.91M605.06 347.95L605.58 347.43M605.06 347.95L605.58 348.47M605.58 346.91L606.10 347.43M605.58 348.47L606.10 347.95M606.10 347.43L606.10 347.95M608.69 350.02L608.69 351.06M608.69 350.02L609.21 348.47M608.69 351.06L609.21 352.62M609.21 348.47L610.25 347.43M609.21 350.02L609.21 351.06M609.21 350.02L609.73 348.47M609.21 350.02L615.44 350.02M609.21 351.06L609.73 352.62M609.21 352.62L610.25 353.66M609.73 348.47L610.77 347.43M609.73 352.62L610.77 353.66M610.25 347.43L611.80 346.91M610.25 353.66L611.80 354.17M610.77 347.43L611.80 346.91M610.77 353.66L611.80 354.17M611.80 346.91L613.36 346.91M611.80 354.17L612.84 354.17M612.84 354.17L614.40 353.66M613.36 346.91L614.40 347.43M614.40 347.43L614.92 347.95M614.40 347.43L614.92 348.47M614.40 353.66L615.44 352.62M614.92 347.95L615.44 348.98M614.92 348.47L614.92 350.02M615.44 348.98L615.44 350.02M618.55 350.02L618.55 351.06M618.55 350.02L619.07 348.47M618.55 351.06L619.07 352.62M619.07 348.47L620.11 347.43M619.07 350.02L619.07 351.06M619.07 350.02L619.59 348.47M619.07 351.06L619.59 352.62M619.07 352.62L620.11 353.66M619.59 348.47L620.63 347.43M619.59 352.62L620.63 353.66M620.11 347.43L621.66 346.91M620.11 353.66L621.66 354.17M620.63 347.43L621.66 346.91M620.63 353.66L621.66 354.17M621.66 346.91L622.70 346.91M621.66 354.17L622.70 354.17M622.70 346.91L623.74 347.43M622.70 354.17L623.74 353.66M623.22 343.28L625.30 343.28M623.74 347.43L624.78 348.47M623.74 353.66L624.78 352.62M624.78 343.28L624.78 354.17M624.78 354.17L626.85 354.17M625.30 343.28L625.30 354.17M588.45 359.73L590.53 359.73M590.01 359.73L590.01 370.63M590.53 359.73L590.53 370.63M590.53 364.92L591.56 363.88M590.53 369.07L591.56 370.11M591.56 363.88L592.60 363.36M591.56 370.11L592.60 370.63M592.60 363.36L593.64 363.36M592.60 370.63L593.64 370.63M593.64 363.36L594.68 363.88M593.64 363.36L595.20 363.88M593.64 370.63L594.68 370.11M593.64 370.63L595.20 370.11M594.68 363.88L595.72 364.92M594.68 370.11L595.72 369.07M595.20 363.88L596.23 364.92M595.20 370.11L596.23 369.07M595.72 364.92L596.23 366.47M595.72 369.07L596.23 367.51M596.23 364.92L596.75 366.47M596.23 366.47L596.23 367.51M596.23 369.07L596.75 367.51M596.75 366.47L596.75 367.51M631.62 352.22L646.89 352.22M631.62 357.31L646.89 357.31M652.82 352.22L652.82 357.31M652.82 352.22L653.67 348.83M652.82 357.31L653.67 359.86M653.67 348.83L654.52 347.14M653.67 352.22L653.67 357.31M653.67 352.22L654.52 348.83M653.67 356.46L654.52 353.92M653.67 357.31L654.52 359.86M653.67 359.86L655.37 361.55M654.52 347.14L656.22 345.44M654.52 348.83L655.37 347.14M654.52 353.92L656.22 352.22M654.52 359.86L656.22 361.55M655.37 347.14L657.06 345.44M655.37 361.55L657.91 362.40M656.22 345.44L658.76 344.59M656.22 352.22L658.76 351.38M656.22 361.55L657.91 362.40M657.06 345.44L658.76 344.59M657.91 362.40L659.61 362.40M658.76 344.59L661.30 344.59M658.76 351.38L659.61 351.38M659.61 351.38L661.30 352.22M659.61 351.38L662.15 352.22M659.61 362.40L661.30 361.55M659.61 362.40L662.15 361.55M661.30 344.59L663.00 345.44M661.30 352.22L663.00 353.92M661.30 361.55L663.00 359.86M662.15 347.98L663.00 347.14M662.15 347.98L663.00 348.83M662.15 352.22L663.85 353.92M662.15 361.55L663.85 359.86M663.00 345.44L663.85 347.14M663.00 348.83L663.85 347.98M663.00 353.92L663.85 356.46M663.00 359.86L663.85 357.31M663.85 347.14L663.85 347.98M663.85 353.92L664.70 356.46M663.85 356.46L663.85 357.31M663.85 359.86L664.70 357.31M664.70 356.46L664.70 357.31M670.63 361.55L671.48 360.70M670.63 361.55L671.48 362.40M671.48 360.70L672.33 361.55M671.48 362.40L672.33 361.55M670.97 361.55h1.02M678.26 344.59L678.26 349.68M678.26 347.98L679.11 346.29M679.11 346.29L680.81 344.59M679.11 346.29L680.81 345.44M680.81 344.59L682.50 344.59M680.81 345.44L682.50 345.44M682.50 344.59L686.74 347.14M682.50 345.44L686.74 347.14M683.35 358.16L683.35 362.40M683.35 358.16L684.20 355.62M684.20 355.62L685.05 353.92M684.20 358.16L684.20 362.40M684.20 358.16L685.05 355.62M685.05 353.92L689.29 349.68M685.05 355.62L685.90 353.92M685.90 353.92L689.29 349.68M686.74 347.14L688.44 347.14M688.44 347.14L689.29 346.29M689.29 346.29L690.14 344.59M689.29 349.68L690.14 347.14M690.14 344.59L690.14 347.14" fill="none" stroke="#00ff00" stroke-width="1.15" stroke-linecap="round" stroke-linejoin="round" />
<path d="M530.60 461.59L533.99 461.59M530.60 479.40L536.53 479.40M533.14 461.59L533.14 479.40M533.99 461.59L533.99 479.40M540.77 472.62L540.77 474.31M540.77 472.62L541.62 470.07M540.77 474.31L541.62 476.86M541.62 470.07L543.32 468.38M541.62 472.62L541.62 474.31M541.62 472.62L542.47 470.07M541.62 474.31L542.47 476.86M541.62 476.86L543.32 478.55M542.47 470.07L544.16 468.38M542.47 476.86L544.16 478.55M543.32 468.38L545.86 467.53M543.32 478.55L545.86 479.40M544.16 468.38L545.86 467.53M544.16 478.55L545.86 479.40M545.86 467.53L547.56 467.53M545.86 479.40L547.56 479.40M547.56 467.53L549.25 468.38M547.56 467.53L550.10 468.38M547.56 479.40L549.25 478.55M547.56 479.40L550.10 478.55M549.25 468.38L550.95 470.07M549.25 478.55L550.95 476.86M550.10 468.38L551.80 470.07M550.10 478.55L551.80 476.86M550.95 470.07L551.80 472.62M550.95 476.86L551.80 474.31M551.80 470.07L552.64 472.62M551.80 472.62L551.80 474.31M551.80 476.86L552.64 474.31M552.64 472.62L552.64 474.31M556.88 481.94L556.88 482.79M556.88 481.94L557.73 480.25M556.88 482.79L557.73 484.49M557.73 476.86L557.73 477.70M557.73 476.86L558.58 475.16M557.73 477.70L558.58 478.55M557.73 477.70L558.58 479.40M557.73 480.25L560.28 479.40M557.73 484.49L560.28 485.34M558.58 470.92L558.58 472.62M558.58 470.92L559.43 469.22M558.58 472.62L559.43 474.31M558.58 475.16L559.43 474.31M558.58 478.55L561.12 479.40M558.58 479.40L561.12 480.25M559.43 469.22L560.28 468.38M559.43 470.07L559.43 473.46M559.43 470.07L560.28 468.38M559.43 473.46L560.28 475.16M559.43 474.31L560.28 475.16M560.28 468.38L561.97 467.53M560.28 475.16L561.97 476.01M560.28 485.34L565.36 485.34M561.12 479.40L565.36 479.40M561.12 480.25L565.36 480.25M561.97 467.53L563.67 467.53M561.97 476.01L563.67 476.01M563.67 467.53L565.36 468.38M563.67 476.01L565.36 475.16M565.36 468.38L566.21 469.22M565.36 468.38L566.21 470.07M565.36 475.16L566.21 473.46M565.36 475.16L566.21 474.31M565.36 479.40L567.91 480.25M565.36 480.25L567.91 481.10M565.36 485.34L567.91 484.49M566.21 469.22L567.06 468.38M566.21 469.22L567.06 470.92M566.21 470.07L566.21 473.46M566.21 474.31L567.06 472.62M567.06 468.38L568.76 467.53M567.06 468.38L568.76 468.38M567.06 470.92L567.06 472.62M567.91 480.25L568.76 481.94M567.91 481.10L568.76 481.94M567.91 484.49L568.76 482.79M568.76 467.53L568.76 468.38M568.76 481.94L568.76 482.79M573.00 461.59L573.00 466.68M573.00 461.59L585.72 461.59M573.00 466.68L573.84 461.59M576.39 479.40L582.32 479.40M578.93 461.59L578.93 479.40M579.78 461.59L579.78 479.40M584.87 461.59L585.72 466.68M585.72 461.59L585.72 466.68M588.97 467.02L588.97 468.06M588.97 467.02L589.49 465.47M588.97 468.06L589.49 469.62M589.49 465.47L590.53 464.43M589.49 467.02L589.49 468.06M589.49 467.02L590.01 465.47M589.49 468.06L590.01 469.62M589.49 469.62L590.53 470.66M590.01 465.47L591.04 464.43M590.01 469.62L591.04 470.66M590.53 464.43L592.08 463.91M590.53 470.66L592.08 471.17M591.04 464.43L592.08 463.91M591.04 470.66L592.08 471.17M592.08 463.91L593.12 463.91M592.08 471.17L593.12 471.17M593.12 463.91L594.16 464.43M593.12 471.17L594.16 470.66M593.64 460.28L595.72 460.28M594.16 464.43L595.20 465.47M594.16 470.66L595.20 469.62M595.20 460.28L595.20 471.17M595.20 471.17L597.27 471.17M595.72 460.28L595.72 471.17M599.35 463.91L601.42 463.91M599.35 471.17L602.98 471.17M600.91 463.91L600.91 471.17M601.42 463.91L601.42 471.17M601.42 467.02L601.94 465.47M601.94 465.47L602.98 464.43M602.98 464.43L604.02 463.91M604.02 463.91L605.58 463.91M605.06 464.95L605.58 464.43M605.06 464.95L605.58 465.47M605.58 463.91L606.10 464.43M605.58 465.47L606.10 464.95M606.10 464.43L606.10 464.95M608.69 467.02L608.69 468.06M608.69 467.02L609.21 465.47M608.69 468.06L609.21 469.62M609.21 465.47L610.25 464.43M609.21 467.02L609.21 468.06M609.21 467.02L609.73 465.47M609.21 467.02L615.44 467.02M609.21 468.06L609.73 469.62M609.21 469.62L610.25 470.66M609.73 465.47L610.77 464.43M609.73 469.62L610.77 470.66M610.25 464.43L611.80 463.91M610.25 470.66L611.80 471.17M610.77 464.43L611.80 463.91M610.77 470.66L611.80 471.17M611.80 463.91L613.36 463.91M611.80 471.17L612.84 471.17M612.84 471.17L614.40 470.66M613.36 463.91L614.40 464.43M614.40 464.43L614.92 464.95M614.40 464.43L614.92 465.47M614.40 470.66L615.44 469.62M614.92 464.95L615.44 465.98M614.92 465.47L614.92 467.02M615.44 465.98L615.44 467.02M618.55 467.02L618.55 468.06M618.55 467.02L619.07 465.47M618.55 468.06L619.07 469.62M619.07 465.47L620.11 464.43M619.07 467.02L619.07 468.06M619.07 467.02L619.59 465.47M619.07 468.06L619.59 469.62M619.07 469.62L620.11 470.66M619.59 465.47L620.63 464.43M619.59 469.62L620.63 470.66M620.11 464.43L621.66 463.91M620.11 470.66L621.66 471.17M620.63 464.43L621.66 463.91M620.63 470.66L621.66 471.17M621.66 463.91L622.70 463.91M621.66 471.17L622.70 471.17M622.70 463.91L623.74 464.43M622.70 471.17L623.74 470.66M623.22 460.28L625.30 460.28M623.74 464.43L624.78 465.47M623.74 470.66L624.78 469.62M624.78 460.28L624.78 471.17M624.78 471.17L626.85 471.17M625.30 460.28L625.30 471.17M588.45 476.73L590.53 476.73M590.01 476.73L590.01 487.63M590.53 476.73L590.53 487.63M590.53 481.92L591.56 480.88M590.53 486.07L591.56 487.11M591.56 480.88L592.60 480.36M591.56 487.11L592.60 487.63M592.60 480.36L593.64 480.36M592.60 487.63L593.64 487.63M593.64 480.36L594.68 480.88M593.64 480.36L595.20 480.88M593.64 487.63L594.68 487.11M593.64 487.63L595.20 487.11M594.68 480.88L595.72 481.92M594.68 487.11L595.72 486.07M595.20 480.88L596.23 481.92M595.20 487.11L596.23 486.07M595.72 481.92L596.23 483.47M595.72 486.07L596.23 484.51M596.23 481.92L596.75 483.47M596.23 483.47L596.23 484.51M596.23 486.07L596.75 484.51M596.75 483.47L596.75 484.51M631.62 469.22L646.89 469.22M631.62 474.31L646.89 474.31M652.82 469.22L652.82 474.31M652.82 469.22L653.67 465.83M652.82 474.31L653.67 476.86M653.67 465.83L654.52 464.14M653.67 469.22L653.67 474.31M653.67 469.22L654.52 465.83M653.67 473.46L654.52 470.92M653.67 474.31L654.52 476.86M653.67 476.86L655.37 478.55M654.52 464.14L656.22 462.44M654.52 465.83L655.37 464.14M654.52 470.92L656.22 469.22M654.52 476.86L656.22 478.55M655.37 464.14L657.06 462.44M655.37 478.55L657.91 479.40M656.22 462.44L658.76 461.59M656.22 469.22L658.76 468.38M656.22 478.55L657.91 479.40M657.06 462.44L658.76 461.59M657.91 479.40L659.61 479.40M658.76 461.59L661.30 461.59M658.76 468.38L659.61 468.38M659.61 468.38L661.30 469.22M659.61 468.38L662.15 469.22M659.61 479.40L661.30 478.55M659.61 479.40L662.15 478.55M661.30 461.59L663.00 462.44M661.30 469.22L663.00 470.92M661.30 478.55L663.00 476.86M662.15 464.98L663.00 464.14M662.15 464.98L663.00 465.83M662.15 469.22L663.85 470.92M662.15 478.55L663.85 476.86M663.00 462.44L663.85 464.14M663.00 465.83L663.85 464.98M663.00 470.92L663.85 473.46M663.00 476.86L663.85 474.31M663.85 464.14L663.85 464.98M663.85 470.92L664.70 473.46M663.85 473.46L663.85 474.31M663.85 476.86L664.70 474.31M664.70 473.46L664.70 474.31M670.63 478.55L671.48 477.70M670.63 478.55L671.48 479.40M671.48 477.70L672.33 478.55M671.48 479.40L672.33 478.55M670.97 478.55h1.02M678.26 470.07L679.96 461.59M678.26 470.07L679.96 468.38M678.26 475.16L678.26 476.01M678.26 475.16L679.11 474.31M678.26 476.01L679.11 477.70M679.11 474.31L679.96 475.16M679.11 476.01L679.96 475.16M679.11 477.70L679.96 478.55M679.96 461.59L688.44 461.59M679.96 462.44L684.20 462.44M679.96 468.38L682.50 467.53M679.96 478.55L682.50 479.40M682.50 467.53L685.05 467.53M682.50 479.40L685.05 479.40M684.20 462.44L688.44 461.59M685.05 467.53L686.74 468.38M685.05 467.53L687.59 468.38M685.05 479.40L686.74 478.55M685.05 479.40L687.59 478.55M686.74 468.38L688.44 470.07M686.74 478.55L688.44 476.86M687.59 468.38L689.29 470.07M687.59 478.55L689.29 476.86M688.44 470.07L689.29 472.62M688.44 476.86L689.29 474.31M689.29 470.07L690.14 472.62M689.29 472.62L689.29 474.31M689.29 476.86L690.14 474.31M690.14 472.62L690.14 474.31" fill="none" stroke="#0000ff" stroke-width="1.15" stroke-linecap="round" stroke-linejoin="round" />
<path d="M530.60 517.19L533.99 517.19M530.60 535.00L536.53 535.00M533.14 517.19L533.14 535.00M533.99 517.19L533.99 535.00M540.77 528.22L540.77 529.91M540.77 528.22L541.62 525.67M540.77 529.91L541.62 532.46M541.62 525.67L543.32 523.98M541.62 528.22L541.62 529.91M541.62 528.22L542.47 525.67M541.62 529.91L542.47 532.46M541.62 532.46L543.32 534.15M542.47 525.67L544.16 523.98M542.47 532.46L544.16 534.15M543.32 523.98L545.86 523.13M543.32 534.15L545.86 535.00M544.16 523.98L545.86 523.13M544.16 534.15L545.86 535.00M545.86 523.13L547.56 523.13M545.86 535.00L547.56 535.00M547.56 523.13L549.25 523.98M547.56 523.13L550.10 523.98M547.56 535.00L549.25 534.15M547.56 535.00L550.10 534.15M549.25 523.98L550.95 525.67M549.25 534.15L550.95 532.46M550.10 523.98L551.80 525.67M550.10 534.15L551.80 532.46M550.95 525.67L551.80 528.22M550.95 532.46L551.80 529.91M551.80 525.67L552.64 528.22M551.80 528.22L551.80 529.91M551.80 532.46L552.64 529.91M552.64 528.22L552.64 529.91M556.88 537.54L556.88 538.39M556.88 537.54L557.73 535.85M556.88 538.39L557.73 540.09M557.73 532.46L557.73 533.30M557.73 532.46L558.58 530.76M557.73 533.30L558.58 534.15M557.73 533.30L558.58 535.00M557.73 535.85L560.28 535.00M557.73 540.09L560.28 540.94M558.58 526.52L558.58 528.22M558.58 526.52L559.43 524.82M558.58 528.22L559.43 529.91M558.58 530.76L559.43 529.91M558.58 534.15L561.12 535.00M558.58 535.00L561.12 535.85M559.43 524.82L560.28 523.98M559.43 525.67L559.43 529.06M559.43 525.67L560.28 523.98M559.43 529.06L560.28 530.76M559.43 529.91L560.28 530.76M560.28 523.98L561.97 523.13M560.28 530.76L561.97 531.61M560.28 540.94L565.36 540.94M561.12 535.00L565.36 535.00M561.12 535.85L565.36 535.85M561.97 523.13L563.67 523.13M561.97 531.61L563.67 531.61M563.67 523.13L565.36 523.98M563.67 531.61L565.36 530.76M565.36 523.98L566.21 524.82M565.36 523.98L566.21 525.67M565.36 530.76L566.21 529.06M565.36 530.76L566.21 529.91M565.36 535.00L567.91 535.85M565.36 535.85L567.91 536.70M565.36 540.94L567.91 540.09M566.21 524.82L567.06 523.98M566.21 524.82L567.06 526.52M566.21 525.67L566.21 529.06M566.21 529.91L567.06 528.22M567.06 523.98L568.76 523.13M567.06 523.98L568.76 523.98M567.06 526.52L567.06 528.22M567.91 535.85L568.76 537.54M567.91 536.70L568.76 537.54M567.91 540.09L568.76 538.39M568.76 523.13L568.76 523.98M568.76 537.54L568.76 538.39M573.00 517.19L573.00 522.28M573.00 517.19L585.72 517.19M573.00 522.28L573.84 517.19M576.39 535.00L582.32 535.00M578.93 517.19L578.93 535.00M579.78 517.19L579.78 535.00M584.87 517.19L585.72 522.28M585.72 517.19L585.72 522.28M588.97 522.62L588.97 523.66M588.97 522.62L589.49 521.07M588.97 523.66L589.49 525.22M589.49 521.07L590.53 520.03M589.49 522.62L589.49 523.66M589.49 522.62L590.01 521.07M589.49 523.66L590.01 525.22M589.49 525.22L590.53 526.26M590.01 521.07L591.04 520.03M590.01 525.22L591.04 526.26M590.53 520.03L592.08 519.51M590.53 526.26L592.08 526.77M591.04 520.03L592.08 519.51M591.04 526.26L592.08 526.77M592.08 519.51L593.12 519.51M592.08 526.77L593.12 526.77M593.12 519.51L594.16 520.03M593.12 526.77L594.16 526.26M593.64 515.88L595.72 515.88M594.16 520.03L595.20 521.07M594.16 526.26L595.20 525.22M595.20 515.88L595.20 526.77M595.20 526.77L597.27 526.77M595.72 515.88L595.72 526.77M599.35 519.51L601.42 519.51M599.35 526.77L602.98 526.77M600.91 519.51L600.91 526.77M601.42 519.51L601.42 526.77M601.42 522.62L601.94 521.07M601.94 521.07L602.98 520.03M602.98 520.03L604.02 519.51M604.02 519.51L605.58 519.51M605.06 520.55L605.58 520.03M605.06 520.55L605.58 521.07M605.58 519.51L606.10 520.03M605.58 521.07L606.10 520.55M606.10 520.03L606.10 520.55M608.69 522.62L608.69 523.66M608.69 522.62L609.21 521.07M608.69 523.66L609.21 525.22M609.21 521.07L610.25 520.03M609.21 522.62L609.21 523.66M609.21 522.62L609.73 521.07M609.21 522.62L615.44 522.62M609.21 523.66L609.73 525.22M609.21 525.22L610.25 526.26M609.73 521.07L610.77 520.03M609.73 525.22L610.77 526.26M610.25 520.03L611.80 519.51M610.25 526.26L611.80 526.77M610.77 520.03L611.80 519.51M610.77 526.26L611.80 526.77M611.80 519.51L613.36 519.51M611.80 526.77L612.84 526.77M612.84 526.77L614.40 526.26M613.36 519.51L614.40 520.03M614.40 520.03L614.92 520.55M614.40 520.03L614.92 521.07M614.40 526.26L615.44 525.22M614.92 520.55L615.44 521.58M614.92 521.07L614.92 522.62M615.44 521.58L615.44 522.62M618.55 522.62L618.55 523.66M618.55 522.62L619.07 521.07M618.55 523.66L619.07 525.22M619.07 521.07L620.11 520.03M619.07 522.62L619.07 523.66M619.07 522.62L619.59 521.07M619.07 523.66L619.59 525.22M619.07 525.22L620.11 526.26M619.59 521.07L620.63 520.03M619.59 525.22L620.63 526.26M620.11 520.03L621.66 519.51M620.11 526.26L621.66 526.77M620.63 520.03L621.66 519.51M620.63 526.26L621.66 526.77M621.66 519.51L622.70 519.51M621.66 526.77L622.70 526.77M622.70 519.51L623.74 520.03M622.70 526.77L623.74 526.26M623.22 515.88L625.30 515.88M623.74 520.03L624.78 521.07M623.74 526.26L624.78 525.22M624.78 515.88L624.78 526.77M624.78 526.77L626.85 526.77M625.30 515.88L625.30 526.77M588.45 532.33L590.53 532.33M590.01 532.33L590.01 543.23M590.53 532.33L590.53 543.23M590.53 537.52L591.56 536.48M590.53 541.67L591.56 542.71M591.56 536.48L592.60 535.96M591.56 542.71L592.60 543.23M592.60 535.96L593.64 535.96M592.60 543.23L593.64 543.23M593.64 535.96L594.68 536.48M593.64 535.96L595.20 536.48M593.64 543.23L594.68 542.71M593.64 543.23L595.20 542.71M594.68 536.48L595.72 537.52M594.68 542.71L595.72 541.67M595.20 536.48L596.23 537.52M595.20 542.71L596.23 541.67M595.72 537.52L596.23 539.07M595.72 541.67L596.23 540.11M596.23 537.52L596.75 539.07M596.23 539.07L596.23 540.11M596.23 541.67L596.75 540.11M596.75 539.07L596.75 540.11M631.62 524.82L646.89 524.82M631.62 529.91L646.89 529.91M652.82 524.82L652.82 529.91M652.82 524.82L653.67 521.43M652.82 529.91L653.67 532.46M653.67 521.43L654.52 519.74M653.67 524.82L653.67 529.91M653.67 524.82L654.52 521.43M653.67 529.06L654.52 526.52M653.67 529.91L654.52 532.46M653.67 532.46L655.37 534.15M654.52 519.74L656.22 518.04M654.52 521.43L655.37 519.74M654.52 526.52L656.22 524.82M654.52 532.46L656.22 534.15M655.37 519.74L657.06 518.04M655.37 534.15L657.91 535.00M656.22 518.04L658.76 517.19M656.22 524.82L658.76 523.98M656.22 534.15L657.91 535.00M657.06 518.04L658.76 517.19M657.91 535.00L659.61 535.00M658.76 517.19L661.30 517.19M658.76 523.98L659.61 523.98M659.61 523.98L661.30 524.82M659.61 523.98L662.15 524.82M659.61 535.00L661.30 534.15M659.61 535.00L662.15 534.15M661.30 517.19L663.00 518.04M661.30 524.82L663.00 526.52M661.30 534.15L663.00 532.46M662.15 520.58L663.00 519.74M662.15 520.58L663.00 521.43M662.15 524.82L663.85 526.52M662.15 534.15L663.85 532.46M663.00 518.04L663.85 519.74M663.00 521.43L663.85 520.58M663.00 526.52L663.85 529.06M663.00 532.46L663.85 529.91M663.85 519.74L663.85 520.58M663.85 526.52L664.70 529.06M663.85 529.06L663.85 529.91M663.85 532.46L664.70 529.91M664.70 529.06L664.70 529.91M670.63 534.15L671.48 533.30M670.63 534.15L671.48 535.00M671.48 533.30L672.33 534.15M671.48 535.00L672.33 534.15M670.97 534.15h1.02M677.42 529.91L686.74 517.19M677.42 529.91L690.98 529.91M683.35 535.00L689.29 535.00M685.90 518.89L685.90 535.00M686.74 517.19L686.74 535.00" fill="none" stroke="#ff0000" stroke-width="1.15" stroke-linecap="round" stroke-linejoin="round" />
<path d="M459.44 134.49L459.44 139.58M459.44 134.49L471.32 134.49M459.44 139.58L460.29 134.49M459.44 152.30L470.47 134.49M459.44 152.30L471.32 152.30M460.29 152.30L471.32 134.49M470.47 152.30L471.32 147.21M471.32 147.21L471.32 152.30M477.25 142.12L492.52 142.12M477.25 147.21L492.52 147.21M498.45 142.12L498.45 144.67M498.45 142.12L499.30 137.88M498.45 144.67L499.30 148.91M499.30 137.88L501.00 135.34M499.30 142.12L499.30 144.67M499.30 142.12L500.15 137.88M499.30 144.67L500.15 148.91M499.30 148.91L501.00 151.45M500.15 137.88L501.00 136.19M500.15 148.91L501.00 150.60M501.00 135.34L503.54 134.49M501.00 136.19L501.84 135.34M501.00 150.60L501.84 151.45M501.00 151.45L503.54 152.30M501.84 135.34L503.54 134.49M501.84 151.45L503.54 152.30M503.54 134.49L505.24 134.49M503.54 152.30L505.24 152.30M505.24 134.49L506.93 135.34M505.24 134.49L507.78 135.34M505.24 152.30L506.93 151.45M505.24 152.30L507.78 151.45M506.93 135.34L507.78 136.19M506.93 151.45L507.78 150.60M507.78 135.34L509.48 137.88M507.78 136.19L508.63 137.88M507.78 150.60L508.63 148.91M507.78 151.45L509.48 148.91M508.63 137.88L509.48 142.12M508.63 148.91L509.48 144.67M509.48 137.88L510.32 142.12M509.48 142.12L509.48 144.67M509.48 148.91L510.32 144.67M510.32 142.12L510.32 144.67M516.26 151.45L517.11 150.60M516.26 151.45L517.11 152.30M517.11 150.60L517.96 151.45M517.11 152.30L517.96 151.45M516.60 151.45h1.02M523.89 142.12L523.89 144.67M523.89 142.12L524.74 137.88M523.89 144.67L524.74 148.91M524.74 137.88L526.44 135.34M524.74 142.12L524.74 144.67M524.74 142.12L525.59 137.88M524.74 144.67L525.59 148.91M524.74 148.91L526.44 151.45M525.59 137.88L526.44 136.19M525.59 148.91L526.44 150.60M526.44 135.34L528.98 134.49M526.44 136.19L527.28 135.34M526.44 150.60L527.28 151.45M526.44 151.45L528.98 152.30M527.28 135.34L528.98 134.49M527.28 151.45L528.98 152.30M528.98 134.49L530.68 134.49M528.98 152.30L530.68 152.30M530.68 134.49L532.37 135.34M530.68 134.49L533.22 135.34M530.68 152.30L532.37 151.45M530.68 152.30L533.22 151.45M532.37 135.34L533.22 136.19M532.37 151.45L533.22 150.60M533.22 135.34L534.92 137.88M533.22 136.19L534.07 137.88M533.22 150.60L534.07 148.91M533.22 151.45L534.92 148.91M534.07 137.88L534.92 142.12M534.07 148.91L534.92 144.67M534.92 137.88L535.76 142.12M534.92 142.12L534.92 144.67M534.92 148.91L535.76 144.67M535.76 142.12L535.76 144.67M540.85 142.12L540.85 144.67M540.85 142.12L541.70 137.88M540.85 144.67L541.70 148.91M541.70 137.88L543.40 135.34M541.70 142.12L541.70 144.67M541.70 142.12L542.55 137.88M541.70 144.67L542.55 148.91M541.70 148.91L543.40 151.45M542.55 137.88L543.40 136.19M542.55 148.91L543.40 150.60M543.40 135.34L545.94 134.49M543.40 136.19L544.24 135.34M543.40 150.60L544.24 151.45M543.40 151.45L545.94 152.30M544.24 135.34L545.94 134.49M544.24 151.45L545.94 152.30M545.94 134.49L547.64 134.49M545.94 152.30L547.64 152.30M547.64 134.49L549.33 135.34M547.64 134.49L550.18 135.34M547.64 152.30L549.33 151.45M547.64 152.30L550.18 151.45M549.33 135.34L550.18 136.19M549.33 151.45L550.18 150.60M550.18 135.34L551.88 137.88M550.18 136.19L551.03 137.88M550.18 150.60L551.03 148.91M550.18 151.45L551.88 148.91M551.03 137.88L551.88 142.12M551.03 148.91L551.88 144.67M551.88 137.88L552.72 142.12M551.88 142.12L551.88 144.67M551.88 148.91L552.72 144.67M552.72 142.12L552.72 144.67M557.81 145.52L557.81 148.91M557.81 145.52L558.66 143.82M557.81 148.91L558.66 150.60M558.66 137.04L558.66 139.58M558.66 137.04L559.51 135.34M558.66 139.58L559.51 141.28M558.66 143.82L559.51 142.97M558.66 145.52L558.66 148.91M558.66 145.52L559.51 143.82M558.66 148.91L559.51 150.60M558.66 150.60L559.51 151.45M559.51 135.34L562.05 134.49M559.51 137.04L559.51 139.58M559.51 137.04L560.36 135.34M559.51 139.58L560.36 141.28M559.51 141.28L562.05 142.12M559.51 142.97L562.05 142.12M559.51 143.82L560.36 142.97M559.51 150.60L560.36 151.45M559.51 151.45L562.05 152.30M560.36 135.34L562.05 134.49M560.36 141.28L562.05 142.12M560.36 142.97L562.05 142.12M560.36 151.45L562.05 152.30M562.05 134.49L565.44 134.49M562.05 142.12L565.44 142.12M562.05 152.30L565.44 152.30M565.44 134.49L567.14 135.34M565.44 134.49L567.99 135.34M565.44 142.12L567.14 141.28M565.44 142.12L567.14 142.97M565.44 142.12L567.99 141.28M565.44 142.12L567.99 142.97M565.44 152.30L567.14 151.45M565.44 152.30L567.99 151.45M567.14 135.34L567.99 137.04M567.14 141.28L567.99 139.58M567.14 142.97L567.99 143.82M567.14 151.45L567.99 150.60M567.99 135.34L568.84 137.04M567.99 137.04L567.99 139.58M567.99 141.28L568.84 139.58M567.99 142.97L568.84 143.82M567.99 143.82L568.84 145.52M567.99 150.60L568.84 148.91M567.99 151.45L568.84 150.60M568.84 137.04L568.84 139.58M568.84 143.82L569.68 145.52M568.84 145.52L568.84 148.91M568.84 150.60L569.68 148.91M569.68 145.52L569.68 148.91" fill="none" stroke="#ff0000" stroke-width="1.15" stroke-linecap="round" stroke-linejoin="round" />
<path d="M378.28 720.11L381.04 720.11M378.28 734.60L382.42 734.60M380.35 720.11L380.35 734.60M380.35 720.11L385.18 734.60M381.04 720.11L385.18 732.53M385.18 734.60L390.01 720.11M387.94 734.60L392.77 734.60M390.01 720.11L390.01 734.60M390.01 720.11L392.77 720.11M390.70 720.11L390.70 734.60M407.95 727.01L407.95 729.77M407.95 727.01L408.64 723.56M407.95 729.77L408.64 733.22M408.64 723.56L410.02 720.80M408.64 727.01L408.64 729.77M408.64 727.01L409.33 723.56M408.64 729.77L409.33 733.22M408.64 733.22L410.02 735.98M409.33 723.56L410.02 721.49M409.33 733.22L410.02 735.29M410.02 720.80L411.40 718.73M410.02 721.49L411.40 718.73M410.02 735.29L411.40 738.05M410.02 735.98L411.40 738.05M411.40 718.73L412.78 717.35M411.40 738.05L412.78 739.43M416.23 720.11L418.99 720.11M416.23 734.60L420.37 734.60M418.30 720.11L418.30 734.60M418.30 720.11L423.13 734.60M418.99 720.11L423.13 732.53M423.13 734.60L427.96 720.11M425.89 734.60L430.72 734.60M427.96 720.11L427.96 734.60M427.96 720.11L430.72 720.11M428.65 720.11L428.65 734.60M433.41 737.22a4.76 4.76 0 1 0 9.52 0a4.76 4.76 0 1 0 -9.52 0M437.92 737.02h0.5M437.92 737.42h0.5M445.76 717.35L447.14 718.73M445.76 739.43L447.14 738.05M447.14 718.73L448.52 720.80M447.14 718.73L448.52 721.49M447.14 738.05L448.52 735.29M447.14 738.05L448.52 735.98M448.52 720.80L449.90 723.56M448.52 721.49L449.21 723.56M448.52 735.29L449.21 733.22M448.52 735.98L449.90 733.22M449.21 723.56L449.90 727.01M449.21 733.22L449.90 729.77M449.90 723.56L450.59 727.01M449.90 727.01L449.90 729.77M449.90 733.22L450.59 729.77M450.59 727.01L450.59 729.77" fill="none" stroke="#0000ff" stroke-width="1.15" stroke-linecap="round" stroke-linejoin="round" />
<path d="M1.38 -14.49L4.14 -14.49M1.38 0.00L5.52 0.00M3.45 -14.49L3.45 0.00M3.45 -14.49L8.28 0.00M4.14 -14.49L8.28 -2.07M8.28 0.00L13.11 -14.49M11.04 0.00L15.87 0.00M13.11 -14.49L13.11 0.00M13.11 -14.49L15.87 -14.49M13.80 -14.49L13.80 0.00M18.09 -12.60L19.78 -12.60M18.09 -6.69L21.05 -6.69M19.36 -12.60L19.36 -6.69M19.78 -12.60L19.78 -6.69M19.78 -11.34L20.63 -12.18M20.63 -12.18L21.90 -12.60M21.90 -12.60L22.74 -12.60M22.74 -12.60L23.58 -12.18M22.74 -12.60L24.01 -12.18M22.74 -6.69L25.70 -6.69M23.58 -12.18L24.01 -11.34M24.01 -12.18L24.43 -11.34M24.01 -11.34L24.01 -6.69M24.43 -11.34L24.43 -6.69M24.43 -11.34L25.27 -12.18M25.27 -12.18L26.54 -12.60M26.54 -12.60L27.38 -12.60M27.38 -12.60L28.23 -12.18M27.38 -12.60L28.65 -12.18M27.38 -6.69L30.34 -6.69M28.23 -12.18L28.65 -11.34M28.65 -12.18L29.07 -11.34M28.65 -11.34L28.65 -6.69M29.07 -11.34L29.07 -6.69M32.03 -12.60L33.72 -12.60M32.03 -6.69L34.99 -6.69M32.87 -15.14L33.30 -15.56M32.87 -15.14L33.30 -14.72M33.30 -15.56L33.72 -15.14M33.30 -14.72L33.72 -15.14M33.30 -12.60L33.30 -6.69M33.72 -12.60L33.72 -6.69M36.67 -12.60L38.36 -12.60M36.67 -6.69L39.63 -6.69M37.94 -12.60L37.94 -6.69M38.36 -12.60L38.36 -6.69M38.36 -11.34L39.21 -12.18M39.21 -12.18L40.48 -12.60M40.48 -12.60L41.32 -12.60M41.32 -12.60L42.16 -12.18M41.32 -12.60L42.59 -12.18M41.32 -6.69L44.28 -6.69M42.16 -12.18L42.59 -11.34M42.59 -12.18L43.01 -11.34M42.59 -11.34L42.59 -6.69M43.01 -11.34L43.01 -6.69M18.52 3.31L18.52 4.16M18.52 3.31L18.94 2.05M18.52 4.16L18.94 5.43M18.94 2.05L19.78 1.20M18.94 3.31L18.94 4.16M18.94 3.31L19.36 2.05M18.94 4.16L19.36 5.43M18.94 5.43L19.78 6.27M19.36 2.05L20.21 1.20M19.36 5.43L20.21 6.27M19.78 1.20L21.05 0.78M19.78 6.27L21.05 6.69M20.21 1.20L21.05 0.78M20.21 6.27L21.05 6.69M21.05 0.78L22.32 0.78M21.05 6.69L21.90 6.69M21.90 6.69L23.16 6.27M22.32 0.78L23.16 1.20M23.16 1.20L24.01 2.05M23.16 2.47L23.58 2.05M23.16 2.47L23.58 2.89M23.16 6.27L24.01 5.43M23.58 2.89L24.01 2.47M24.01 2.05L24.01 2.47M58.80 -7.59L58.80 -4.83M58.80 -7.59L59.49 -11.04M58.80 -4.83L59.49 -1.38M59.49 -11.04L60.87 -13.80M59.49 -7.59L59.49 -4.83M59.49 -7.59L60.18 -11.04M59.49 -4.83L60.18 -1.38M59.49 -1.38L60.87 1.38M60.18 -11.04L60.87 -13.11M60.18 -1.38L60.87 0.69M60.87 -13.80L62.25 -15.87M60.87 -13.11L62.25 -15.87M60.87 0.69L62.25 3.45M60.87 1.38L62.25 3.45M62.25 -15.87L63.63 -17.25M62.25 3.45L63.63 4.83M67.08 -14.49L69.84 -14.49M67.08 0.00L71.22 0.00M69.15 -14.49L69.15 0.00M69.15 -14.49L73.98 0.00M69.84 -14.49L73.98 -2.07M73.98 0.00L78.81 -14.49M76.74 0.00L81.57 0.00M78.81 -14.49L78.81 0.00M78.81 -14.49L81.57 -14.49M79.50 -14.49L79.50 0.00M84.26 2.62a4.76 4.76 0 1 0 9.52 0a4.76 4.76 0 1 0 -9.52 0M88.77 2.42h0.5M88.77 2.82h0.5M96.61 -17.25L97.99 -15.87M96.61 4.83L97.99 3.45M97.99 -15.87L99.37 -13.80M97.99 -15.87L99.37 -13.11M97.99 3.45L99.37 0.69M97.99 3.45L99.37 1.38M99.37 -13.80L100.75 -11.04M99.37 -13.11L100.06 -11.04M99.37 0.69L100.06 -1.38M99.37 1.38L100.75 -1.38M100.06 -11.04L100.75 -7.59M100.06 -1.38L100.75 -4.83M100.75 -11.04L101.44 -7.59M100.75 -7.59L100.75 -4.83M100.75 -1.38L101.44 -4.83M101.44 -7.59L101.44 -4.83" fill="none" stroke="#0000ff" stroke-width="1.15" stroke-linecap="round" stroke-linejoin="round" transform="translate(38.1 435.3) rotate(-90)"/>
<path d="M206.0 198.3L214.3 248.7L222.5 274.2L230.9 289.6L239.4 300.7L247.6 309.1L264.3 321.6L289.4 329.4L330.9 340.8L372.7 347.0L414.4 351.8L456.2 353.8L497.9 355.8L514.3 356.4" fill="none" stroke="#00ff00" stroke-width="1.05" stroke-linejoin="round"/>
<path d="M202.65 195.12h6.70v6.35h-6.70zM210.95 245.52h6.70v6.35h-6.70zM219.15 271.02h6.70v6.35h-6.70zM227.55 286.43h6.70v6.35h-6.70zM236.05 297.52h6.70v6.35h-6.70zM244.25 305.93h6.70v6.35h-6.70zM260.95 318.43h6.70v6.35h-6.70zM286.05 326.22h6.70v6.35h-6.70zM327.55 337.62h6.70v6.35h-6.70zM369.35 343.82h6.70v6.35h-6.70zM411.05 348.62h6.70v6.35h-6.70zM452.85 350.62h6.70v6.35h-6.70zM494.55 352.62h6.70v6.35h-6.70zM510.95 353.23h6.70v6.35h-6.70z" fill="#00ff00" stroke="none"/>
<path d="M180.7 287.4L189.2 376.6L197.4 401.7L205.8 417.3L214.3 427.8L222.7 435.7L230.9 441.8L239.4 446.0L247.6 449.4L264.3 455.2L289.4 458.7L330.9 464.7L372.7 468.3L414.4 470.9L456.2 471.9L497.9 472.9L514.3 473.2" fill="none" stroke="#0000ff" stroke-width="1.05" stroke-linejoin="round"/>
<path d="M177.35 284.22h6.70v6.35h-6.70zM185.85 373.43h6.70v6.35h-6.70zM194.05 398.52h6.70v6.35h-6.70zM202.45 414.12h6.70v6.35h-6.70zM210.95 424.62h6.70v6.35h-6.70zM219.35 432.52h6.70v6.35h-6.70zM227.55 438.62h6.70v6.35h-6.70zM236.05 442.82h6.70v6.35h-6.70zM244.25 446.22h6.70v6.35h-6.70zM260.95 452.02h6.70v6.35h-6.70zM286.05 455.52h6.70v6.35h-6.70zM327.55 461.52h6.70v6.35h-6.70zM369.35 465.12h6.70v6.35h-6.70zM411.05 467.73h6.70v6.35h-6.70zM452.85 468.73h6.70v6.35h-6.70zM494.55 469.73h6.70v6.35h-6.70zM510.95 470.02h6.70v6.35h-6.70z" fill="#0000ff" stroke="none"/>
<path d="M170.7 308.5L172.3 394.3L180.7 446.4L189.2 467.5L197.4 479.7L205.8 488.6L214.3 495.4L222.7 500.8L230.9 504.8L239.4 508.0L247.6 510.2L264.3 514.9L289.4 516.3L330.9 521.8L372.7 524.1L414.4 526.4L456.2 527.4L497.9 528.4L514.3 528.7" fill="none" stroke="#ff0000" stroke-width="1.05" stroke-linejoin="round"/>
<path d="M167.35 305.32h6.70v6.35h-6.70zM168.95 391.12h6.70v6.35h-6.70zM177.35 443.22h6.70v6.35h-6.70zM185.85 464.32h6.70v6.35h-6.70zM194.05 476.52h6.70v6.35h-6.70zM202.45 485.43h6.70v6.35h-6.70zM210.95 492.22h6.70v6.35h-6.70zM219.35 497.62h6.70v6.35h-6.70zM227.55 501.62h6.70v6.35h-6.70zM236.05 504.82h6.70v6.35h-6.70zM244.25 507.02h6.70v6.35h-6.70zM260.95 511.72h6.70v6.35h-6.70zM286.05 513.12h6.70v6.35h-6.70zM327.55 518.62h6.70v6.35h-6.70zM369.35 520.92h6.70v6.35h-6.70zM411.05 523.23h6.70v6.35h-6.70zM452.85 524.23h6.70v6.35h-6.70zM494.55 525.23h6.70v6.35h-6.70zM510.95 525.52h6.70v6.35h-6.70z" fill="#ff0000" stroke="none"/>
<path d="M126.3 572.1L130.8 564.8L132.2 561.0L140.6 539.7L155.5 522.1L164.1 519.6L172.1 510.8L180.0 513.0L189.3 500.8L197.6 496.1L206.5 500.5L215.0 517.5L222.4 527.6L231.4 571.2L234.9 576.5L239.4 620.6L264.6 571.4L289.6 463.0L330.9 189.0L339.7 92.0" fill="none" stroke="#000" stroke-width="1.05" stroke-dasharray="10.5 8.14" stroke-dashoffset="-0.7"/>
</svg>
</body></html>
